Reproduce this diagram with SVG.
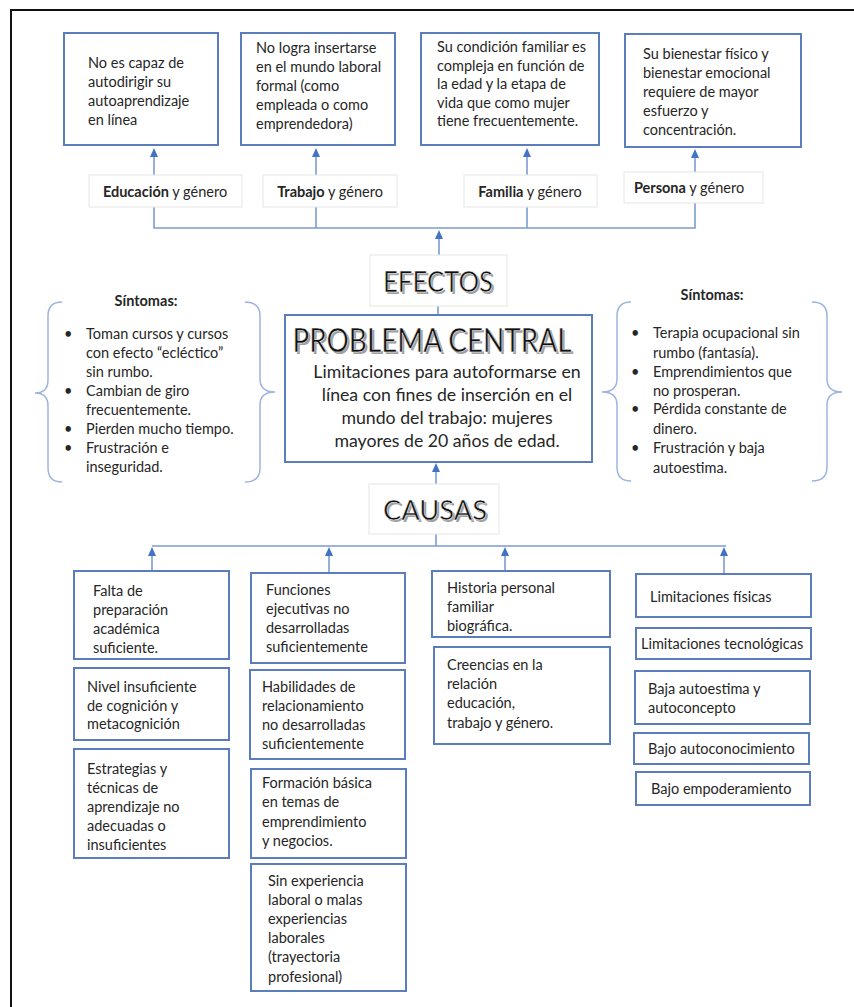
<svg xmlns="http://www.w3.org/2000/svg" width="854" height="1007" viewBox="0 0 854 1007">
<defs>
<path id="ah" d="M-4,9 L0,0 L4,9 Z" fill="#4472C4"/>
<style>
.t{font-family:Lato,"Liberation Sans",sans-serif;font-size:14.5px;fill:#262626}
.b{font-weight:bold}
.box{fill:#fff;stroke:#5B7DBB;stroke-width:2}
.lbl{fill:#fff;stroke:#e6e6e6;stroke-width:1}
.ln{fill:none;stroke:#7C9BD4;stroke-width:1.6}
.br{fill:none;stroke:#9DB4DE;stroke-width:1.5}
.big{font-family:Lato,"Liberation Sans",sans-serif;fill:#111;stroke:#fff;stroke-width:0.5;text-anchor:middle}
.sh{font-family:Lato,"Liberation Sans",sans-serif;fill:#a0a0a0;text-anchor:middle}
.c{text-anchor:middle}
.pc{font-size:17.7px}
</style>
</defs>
<rect width="854" height="1007" fill="#fff"/>
<path d="M11,1007 L11,10 L854,10" fill="none" stroke="#111" stroke-width="2"/>

<g id="connectors">
<path class="ln" d="M154,175 L154,155"/><use href="#ah" x="154" y="148"/>
<path class="ln" d="M316,175 L316,155"/><use href="#ah" x="316" y="148"/>
<path class="ln" d="M527,175 L527,155"/><use href="#ah" x="527" y="148"/>
<path class="ln" d="M695,172 L695,155"/><use href="#ah" x="695" y="149"/>
<path class="ln" d="M154,207 L154,228 L695,228 L695,203"/>
<path class="ln" d="M316,207 L316,228"/>
<path class="ln" d="M527,207 L527,228"/>
<path class="ln" d="M439,255 L439,236"/><use href="#ah" x="439" y="230"/>
<path class="ln" d="M438,306 L438,315"/>
<path class="ln" d="M436,484 L436,469"/><use href="#ah" x="436" y="463"/>
<path class="ln" d="M436,534 L436,546"/>
<path class="ln" d="M152,546 L726,546"/>
<path class="ln" d="M152,571 L152,553"/><use href="#ah" x="152" y="547"/>
<path class="ln" d="M329,573 L329,553"/><use href="#ah" x="329" y="547"/>
<path class="ln" d="M505,571 L505,553"/><use href="#ah" x="505" y="547"/>
<path class="ln" d="M724,574 L724,553"/><use href="#ah" x="724" y="547"/>
</g>

<g id="efecto1"><rect class="box" x="64" y="33" width="154" height="112"/>
<text class="t"><tspan x="88" y="68">No es capaz de</tspan><tspan x="88" y="87">autodirigir su</tspan><tspan x="88" y="106">autoaprendizaje</tspan><tspan x="88" y="125">en línea</tspan></text></g>
<g id="efecto2"><rect class="box" x="241" y="33" width="154" height="112"/>
<text class="t"><tspan x="256" y="53">No logra insertarse</tspan><tspan x="256" y="72">en el mundo laboral</tspan><tspan x="256" y="91">formal (como</tspan><tspan x="256" y="110">empleada o como</tspan><tspan x="256" y="129">emprendedora)</tspan></text></g>
<g id="efecto3"><rect class="box" x="421" y="33" width="178" height="112"/>
<text class="t"><tspan x="437" y="52">Su condición familiar es</tspan><tspan x="437" y="70.5">compleja en función de</tspan><tspan x="437" y="89">la edad y la etapa de</tspan><tspan x="437" y="107.5">vida que como mujer</tspan><tspan x="437" y="126">tiene frecuentemente.</tspan></text></g>
<g id="efecto4"><rect class="box" x="625" y="34" width="176" height="113"/>
<text class="t"><tspan x="643" y="59">Su bienestar físico y</tspan><tspan x="643" y="78">bienestar emocional</tspan><tspan x="643" y="97">requiere de mayor</tspan><tspan x="643" y="116">esfuerzo y</tspan><tspan x="643" y="135">concentración.</tspan></text></g>

<g id="lbl-educacion"><rect class="lbl" x="89" y="175" width="153" height="32"/>
<text class="t c" x="165" y="197"><tspan class="b">Educación</tspan> y género</text></g>
<g id="lbl-trabajo"><rect class="lbl" x="263" y="175" width="134" height="32"/>
<text class="t c" x="330" y="197"><tspan class="b">Trabajo</tspan> y género</text></g>
<g id="lbl-familia"><rect class="lbl" x="464" y="175" width="133" height="32"/>
<text class="t c" x="530" y="197"><tspan class="b">Familia</tspan> y género</text></g>
<g id="lbl-persona"><rect class="lbl" x="624" y="172" width="139" height="31"/>
<text class="t c" x="689" y="193"><tspan class="b">Persona</tspan> y género</text></g>

<g id="efectos"><rect class="lbl" x="370" y="255" width="137" height="51"/>
<text class="sh" x="440" y="294" font-size="28" textLength="110" lengthAdjust="spacingAndGlyphs">EFECTOS</text>
<text class="big" x="438" y="292" font-size="28" textLength="110" lengthAdjust="spacingAndGlyphs">EFECTOS</text></g>

<g id="problema"><rect class="box" x="285" y="315" width="307" height="147" stroke-width="2.5"/>
<text class="sh" x="434" y="354" font-size="33" textLength="279" lengthAdjust="spacingAndGlyphs">PROBLEMA CENTRAL</text>
<text class="big" x="432" y="352" font-size="33" textLength="279" lengthAdjust="spacingAndGlyphs">PROBLEMA CENTRAL</text>
<text class="t c pc"><tspan x="447" y="378">Limitaciones para autoformarse en</tspan><tspan x="447" y="401">línea con fines de inserción en el</tspan><tspan x="447" y="424">mundo del trabajo: mujeres</tspan><tspan x="447" y="447">mayores de 20 años de edad.</tspan></text></g>

<g id="causas"><rect class="lbl" x="369" y="484" width="130" height="50"/>
<text class="sh" x="437" y="522" font-size="27" textLength="104" lengthAdjust="spacingAndGlyphs">CAUSAS</text>
<text class="big" x="435" y="520" font-size="27" textLength="104" lengthAdjust="spacingAndGlyphs">CAUSAS</text></g>

<g id="sintomas-izq">
<path class="br" d="M62,302 Q48,302 48,316 L48,380 Q48,393 35,393 Q48,393 48,406 L48,468 Q48,482 62,482"/>
<path class="br" d="M245,302 Q260,302 260,316 L260,379 Q260,392 275,392 Q260,392 260,405 L260,468 Q260,482 245,482"/>
<text class="t b c" x="146" y="306">Síntomas:</text>
<text class="t"><tspan x="64" y="339">•</tspan><tspan x="64" y="396">•</tspan><tspan x="64" y="434">•</tspan><tspan x="64" y="453">•</tspan></text>
<text class="t"><tspan x="86" y="339">Toman cursos y cursos</tspan><tspan x="86" y="358">con efecto  “ecléctico”</tspan><tspan x="86" y="377">sin rumbo.</tspan><tspan x="86" y="396">Cambian de giro</tspan><tspan x="86" y="415">frecuentemente.</tspan><tspan x="86" y="434">Pierden mucho tiempo.</tspan><tspan x="86" y="453">Frustración e</tspan><tspan x="86" y="472">inseguridad.</tspan></text>
</g>

<g id="sintomas-der">
<path class="br" d="M631,302 Q617,302 617,316 L617,379 Q617,392 602,392 Q617,392 617,405 L617,467 Q617,481 631,481"/>
<path class="br" d="M812,302 Q827,302 827,316 L827,379 Q827,392 842,392 Q827,392 827,405 L827,467 Q827,481 812,481"/>
<text class="t b c" x="712" y="300">Síntomas:</text>
<text class="t"><tspan x="631" y="338">•</tspan><tspan x="631" y="377">•</tspan><tspan x="631" y="414">•</tspan><tspan x="631" y="453">•</tspan></text>
<text class="t"><tspan x="653" y="338">Terapia ocupacional sin</tspan><tspan x="653" y="358">rumbo (fantasía).</tspan><tspan x="653" y="377">Emprendimientos que</tspan><tspan x="653" y="396">no prosperan.</tspan><tspan x="653" y="414">Pérdida constante de</tspan><tspan x="653" y="434">dinero.</tspan><tspan x="653" y="453">Frustración y baja</tspan><tspan x="653" y="473">autoestima.</tspan></text>
</g>

<g id="causa-a"><rect class="box" x="74" y="571" width="155" height="88"/>
<text class="t"><tspan x="93" y="596">Falta de</tspan><tspan x="93" y="615">preparación</tspan><tspan x="93" y="634">académica</tspan><tspan x="93" y="653">suficiente.</tspan></text></g>
<g id="causa-b"><rect class="box" x="74" y="668" width="155" height="72"/>
<text class="t"><tspan x="87" y="692">Nivel insuficiente</tspan><tspan x="87" y="711">de cognición y</tspan><tspan x="87" y="729">metacognición</tspan></text></g>
<g id="causa-c"><rect class="box" x="74" y="749" width="155" height="109"/>
<text class="t"><tspan x="87" y="774">Estrategias y</tspan><tspan x="87" y="793">técnicas de</tspan><tspan x="87" y="812">aprendizaje no</tspan><tspan x="87" y="831">adecuadas o</tspan><tspan x="87" y="850">insuficientes</tspan></text></g>

<g id="causa-d"><rect class="box" x="251" y="573" width="154" height="90"/>
<text class="t"><tspan x="266" y="595">Funciones</tspan><tspan x="266" y="614">ejecutivas no</tspan><tspan x="266" y="633">desarrolladas</tspan><tspan x="266" y="652">suficientemente</tspan></text></g>
<g id="causa-e"><rect class="box" x="250" y="670" width="155" height="89"/>
<text class="t"><tspan x="262" y="692">Habilidades de</tspan><tspan x="262" y="711">relacionamiento</tspan><tspan x="262" y="730">no desarrolladas</tspan><tspan x="262" y="749">suficientemente</tspan></text></g>
<g id="causa-f"><rect class="box" x="251" y="769" width="155" height="89"/>
<text class="t"><tspan x="262" y="788">Formación básica</tspan><tspan x="262" y="807">en temas de</tspan><tspan x="262" y="827">emprendimiento</tspan><tspan x="262" y="846">y negocios.</tspan></text></g>
<g id="causa-g"><rect class="box" x="251" y="864" width="155" height="127"/>
<text class="t"><tspan x="268" y="886">Sin experiencia</tspan><tspan x="268" y="905">laboral o malas</tspan><tspan x="268" y="924">experiencias</tspan><tspan x="268" y="943">laborales</tspan><tspan x="268" y="962">(trayectoria</tspan><tspan x="268" y="982">profesional)</tspan></text></g>

<g id="causa-h"><rect class="box" x="432" y="571" width="178" height="66"/>
<text class="t"><tspan x="447" y="593">Historia personal</tspan><tspan x="447" y="612">familiar</tspan><tspan x="447" y="631">biográfica.</tspan></text></g>
<g id="causa-i"><rect class="box" x="434" y="647" width="176" height="97"/>
<text class="t"><tspan x="447" y="670">Creencias en la</tspan><tspan x="447" y="689">relación</tspan><tspan x="447" y="708">educación,</tspan><tspan x="447" y="728">trabajo y género.</tspan></text></g>

<g id="causa-j"><rect class="box" x="636" y="574" width="175" height="43"/>
<text class="t" x="650" y="602">Limitaciones físicas</text></g>
<g id="causa-k"><rect class="box" x="636" y="628" width="175" height="31"/>
<text class="t" x="641" y="649">Limitaciones tecnológicas</text></g>
<g id="causa-l"><rect class="box" x="635" y="671" width="175" height="53"/>
<text class="t"><tspan x="648" y="694">Baja autoestima y</tspan><tspan x="648" y="713">autoconcepto</tspan></text></g>
<g id="causa-m"><rect class="box" x="634" y="733" width="175" height="31"/>
<text class="t" x="648" y="754">Bajo autoconocimiento</text></g>
<g id="causa-n"><rect class="box" x="636" y="772" width="174" height="33"/>
<text class="t" x="651" y="794">Bajo empoderamiento</text></g>
</svg>
